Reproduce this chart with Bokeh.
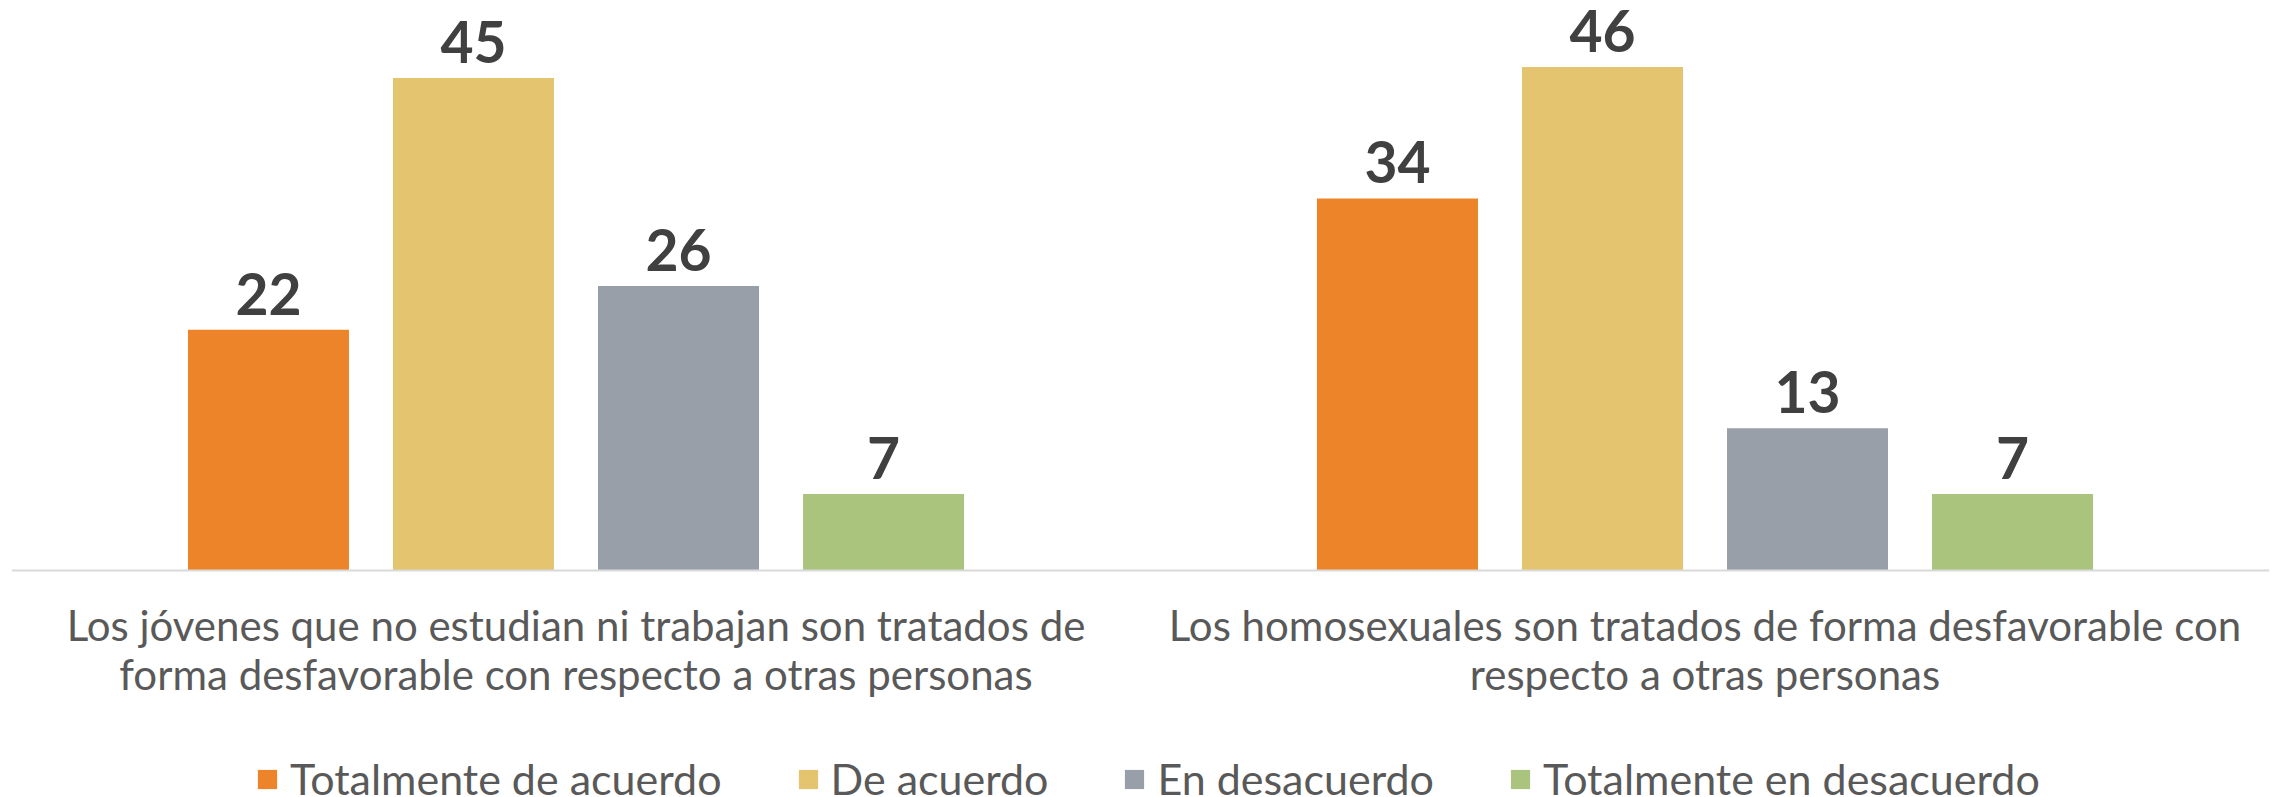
from bokeh.plotting import figure
from bokeh.models import ColumnDataSource, FactorRange, Range1d, Legend, LegendItem, Span
from bokeh.transform import dodge
from bokeh.core.properties import value
from bokeh.embed import file_html
from bokeh.resources import INLINE

categories = [
    "Los jóvenes que no estudian ni trabajan son tratados de\nforma desfavorable con respecto a otras personas",
    "Los homosexuales son tratados de forma desfavorable con\nrespecto a otras personas",
]
series_names = ["Totalmente de acuerdo", "De acuerdo", "En desacuerdo", "Totalmente en desacuerdo"]
totalmente_de_acuerdo = [22, 34]
de_acuerdo = [45, 46]
en_desacuerdo = [26, 13]
totalmente_en_desacuerdo = [7, 7]
colors = ["#ED8429", "#E5C46F", "#989FA8", "#AAC47E"]

series_values = [totalmente_de_acuerdo, de_acuerdo, en_desacuerdo, totalmente_en_desacuerdo]
offsets = [-0.2724, -0.0908, 0.0908, 0.2724]
bar_width = 0.1426

data = {"cat": categories, "zero": [0] * len(categories)}
for i, vals in enumerate(series_values):
    data[f"s{i}"] = vals
    data[f"l{i}"] = [str(v) for v in vals]
source = ColumnDataSource(data)

p = figure(
    width=2272, height=797,
    x_range=FactorRange(*categories, range_padding=0),
    y_range=Range1d(-20.742, 52.083),
    x_axis_location=None, y_axis_location=None,
    output_backend="svg", toolbar_location=None,
    min_border=0, min_border_left=11, min_border_right=3, min_border_top=0, min_border_bottom=0,
)
p.outline_line_color = None
p.xgrid.grid_line_color = None
p.ygrid.grid_line_color = None

# category axis line at the bars' base
p.add_layout(Span(location=0, dimension="width", line_color="#D9D9D9", line_width=2))

# category labels below the base line
p.text(x="cat", y="zero", text="cat", source=source,
       text_align="center", text_baseline="top", y_offset=30,
       text_font=value("Lato"), text_font_size="42px", text_color="#595959",
       text_line_height=0.98)

items = []
for i, name in enumerate(series_names):
    r = p.vbar(x=dodge("cat", offsets[i], range=p.x_range), top=f"s{i}", width=bar_width,
               source=source, color=colors[i], line_color=None)
    items.append(LegendItem(label=name, renderers=[r]))
    p.text(x=dodge("cat", offsets[i], range=p.x_range), y=f"s{i}", text=f"l{i}", source=source,
           text_align="center", text_baseline="alphabetic", y_offset=-36,
           text_font=value("Lato"), text_font_style="bold", text_font_size="57px",
           text_color="#404040")

legend = Legend(items=items, orientation="horizontal", location=(244, -7),
                label_text_font="Lato", label_text_font_size="43px", label_text_color="#595959",
                glyph_width=24, glyph_height=24, label_standoff=11, spacing=74,
                padding=0, margin=0, border_line_color=None, background_fill_alpha=0)
p.add_layout(legend, "center")

open("out.html", "w").write(file_html(p, INLINE))
